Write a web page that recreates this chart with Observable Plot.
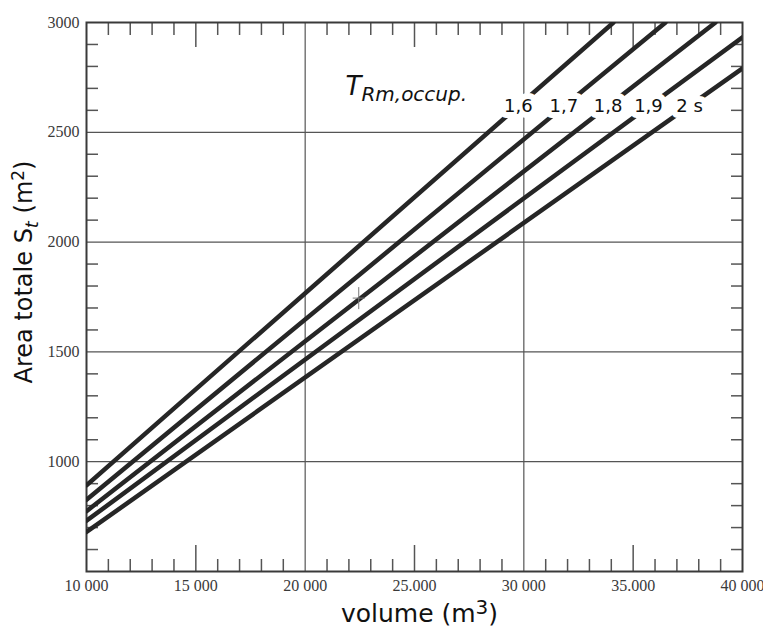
<!DOCTYPE html>
<html><head><meta charset="utf-8">
<script src="https://cdn.jsdelivr.net/npm/d3@7"></script>
<script src="https://cdn.jsdelivr.net/npm/@observablehq/plot@0.6"></script>
<style>html,body{margin:0;padding:0;background:#fff;}</style>
</head><body>
<script>
// ---- data ----
const reverberationTimes = ["1,6", "1,7", "1,8", "1,9", "2 s"];
const startVolume = [10000, 10000, 10000, 10000, 10000];
const startArea   = [893, 827, 775, 731, 680];
const endVolume   = [34100, 36480, 38765, 40000, 40000];
const endArea     = [3000, 3000, 3000, 2933, 2791];
const labelVolume = [29750, 31830, 33850, 35700, 37580];
const labelArea   = [2620, 2620, 2620, 2620, 2620];

const xTickValues = [10000, 15000, 20000, 25000, 30000, 35000, 40000];
const xTickLabels = ["10 000", "15 000", "20 000", "25.000", "30 000", "35.000", "40 000"];
const yTickValues = [1000, 1500, 2000, 2500, 3000];
const yTickLabels = ["1000", "1500", "2000", "2500", "3000"];
const xGrid = [20000, 30000];
const yGrid = [1000, 1500, 2000, 2500];
const xMajorTicks = [15000, 25000, 35000];
const xMinorTicks = d3.range(11000, 40000, 1000).filter(v => v % 5000 !== 0);
const yMinorTicks = d3.range(600, 3000, 100).filter(v => v % 500 !== 0);
const markVolume = [22450];
const markArea = [1745];

const yTitle = "Area totale St (m2)";
const xTitle = "volume (m3)";
const legendTitle = "TRm,occup.";

// ---- tables built from the arrays ----
const lineData = reverberationTimes.flatMap((t, i) => [
  {t, v: startVolume[i], s: startArea[i]},
  {t, v: endVolume[i], s: endArea[i]}
]);
const labelData = reverberationTimes.map((t, i) => ({t, v: labelVolume[i], s: labelArea[i]}));
const markData = markVolume.map((v, i) => ({v, s: markArea[i]}));

const tickStroke = "#555";
const plusSymbol = {
  draw(ctx, size) {
    const r = Math.sqrt(size / Math.PI);
    ctx.moveTo(0, -r); ctx.lineTo(0, r);
    ctx.moveTo(-r * 0.55, 0); ctx.lineTo(r * 0.55, 0);
  }
};

const chart = Plot.plot({
  width: 763,
  height: 628,
  marginLeft: 86,
  marginRight: 21,
  marginTop: 22,
  marginBottom: 57,
  x: {domain: [10000, 40000]},
  y: {domain: [500, 3000]},
  style: {fontFamily: "'Liberation Serif', serif", fontSize: "16px", color: "#3a3a3a", background: "#fff"},
  marks: [
    Plot.ruleY(yGrid, {stroke: "#555", strokeWidth: 1.2}),
    Plot.ruleX(xGrid, {stroke: "#555", strokeWidth: 1.2}),
    Plot.axisX(xMinorTicks, {anchor: "bottom", tickSize: -12, fill: "none", stroke: tickStroke, strokeWidth: 1.5, label: null}),
    Plot.axisX(xMinorTicks, {anchor: "top", tickSize: -12, fill: "none", stroke: tickStroke, strokeWidth: 1.5, label: null}),
    Plot.axisX(xMajorTicks, {anchor: "bottom", tickSize: -26, fill: "none", stroke: tickStroke, strokeWidth: 1.5, label: null}),
    Plot.axisX(xMajorTicks, {anchor: "top", tickSize: -24, fill: "none", stroke: tickStroke, strokeWidth: 1.5, label: null}),
    Plot.axisY(yMinorTicks, {anchor: "left", tickSize: -12, fill: "none", stroke: tickStroke, strokeWidth: 1.5, label: null}),
    Plot.axisY(yMinorTicks, {anchor: "right", tickSize: -12, fill: "none", stroke: tickStroke, strokeWidth: 1.5, label: null}),
    Plot.axisX(xTickValues, {anchor: "bottom", tickSize: 0, tickPadding: 8, label: null,
      tickFormat: d => xTickLabels[xTickValues.indexOf(d)], fill: "#3a3a3a", fontSize: 16}),
    Plot.axisY(yTickValues, {anchor: "left", tickSize: 0, tickPadding: 7, label: null,
      tickFormat: d => yTickLabels[yTickValues.indexOf(d)], fill: "#3a3a3a", fontSize: 16}),
    Plot.frame({stroke: "#3a3a3a", strokeWidth: 2}),
    Plot.line(lineData, {x: "v", y: "s", z: "t", stroke: "#262626", strokeWidth: 4.5, clip: true}),
    Plot.dot(markData, {x: "v", y: "s", symbol: plusSymbol, r: 11, fill: "none", stroke: "#777", strokeWidth: 1}),
    Plot.text(labelData, {x: "v", y: "s", text: "t", fill: "#111", stroke: "white", strokeWidth: 12,
      strokeLinejoin: "round", fontFamily: "DejaVu Sans", fontSize: 18}),
    Plot.text([legendTitle], {frameAnchor: "top-left", dx: 259, dy: 54, textAnchor: "start",
      fill: "#111", fontFamily: "DejaVu Sans", fontSize: 26, fontStyle: "italic"}),
    Plot.text([yTitle], {frameAnchor: "left", dx: -62, dy: -25, rotate: -90, textAnchor: "middle",
      fill: "#111", fontFamily: "DejaVu Sans", fontSize: 24}),
    Plot.text([xTitle], {frameAnchor: "bottom", dx: 5, dy: 50, textAnchor: "middle",
      fill: "#111", fontFamily: "DejaVu Sans", fontSize: 25})
  ]
});

function richText(svg, key, parts) {
  d3.select(svg).selectAll("text").filter(function() { return this.textContent === key; })
    .each(function() {
      const el = d3.select(this);
      el.text(null);
      for (const p of parts) {
        const ts = el.append("tspan").text(p.text);
        if (p.dy) ts.attr("dy", p.dy);
        if (p.size) ts.attr("font-size", p.size);
        if (p.style) ts.attr("font-style", p.style);
      }
    });
}

richText(chart, yTitle, [
  {text: "Area totale S"},
  {text: "t", dy: "6px", size: 18, style: "italic"},
  {text: " (m", dy: "-6px"},
  {text: "2", dy: "-8px", size: 17},
  {text: ")", dy: "8px"}
]);
richText(chart, xTitle, [
  {text: "volume (m"},
  {text: "3", dy: "-8px", size: 20},
  {text: ")", dy: "8px"}
]);
richText(chart, legendTitle, [
  {text: "T"},
  {text: "Rm,occup.", dy: "6px", size: 20}
]);

document.body.appendChild(chart);
</script>
</body></html>
